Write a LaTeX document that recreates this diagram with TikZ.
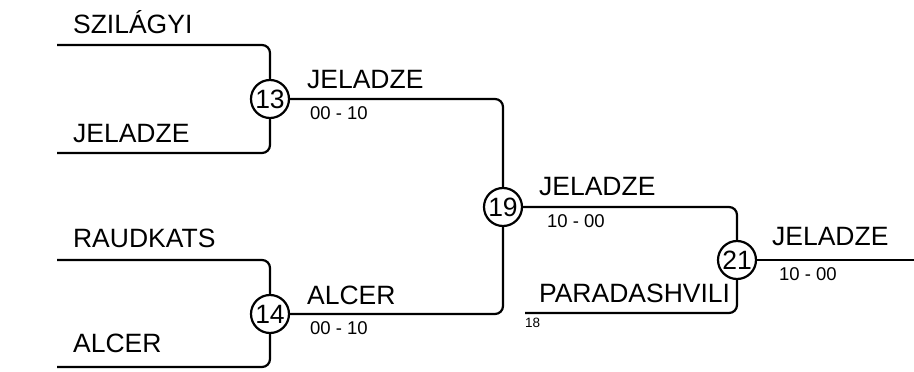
\documentclass[tikz,border=0pt]{standalone}
\usepackage{fontspec}
\setmainfont{Liberation Sans}
\usetikzlibrary{positioning}

\begin{document}
\begin{tikzpicture}[x=1pt,y=-1pt,
 line width=2.2pt,
 match/.style={draw,circle,inner sep=0pt,minimum size=38pt,
               font=\fontsize{26.5}{28}\selectfont},
 player/.style={anchor=base west,inner sep=0pt,font=\fontsize{26.5}{28}\selectfont},
 score/.style={anchor=base west,inner sep=0pt,font=\fontsize{18.5}{20}\selectfont},
 seed/.style={anchor=base west,inner sep=0pt,font=\fontsize{13.5}{15}\selectfont},
 bracket/.style={rounded corners=8pt}]
 \useasboundingbox (0,0) rectangle (914,372);
 % matches
 \node[match] (m13) at (270,99) {13};
 \node[match] (m14) at (270,314) {14};
 \node[match] (m19) at (503,207) {19};
 \node[match] (m21) at (737,260) {21};
 % line ends
 \coordinate (s1) at (57,45);
 \coordinate (s2) at (57,153);
 \coordinate (s3) at (57,260);
 \coordinate (s4) at (57,367);
 \coordinate (s5) at (525,313);
 \coordinate (win) at (914,260);
 % names
 \node[player] (szilagyi) at (72,33) {SZILÁGYI};
 \node[player] (jeladze) at (72,142) {JELADZE};
 \node[player] (raudkats) at (72,247) {RAUDKATS};
 \node[player] (alcer) at (72,352) {ALCER};
 \node[player] (w13) at (306,88) {JELADZE};
 \node[score] (r13) at (309,119) {00 - 10};
 \node[player] (w14) at (306,304) {ALCER};
 \node[score] (r14) at (309,334) {00 - 10};
 \node[player] (w19) at (538,195) {JELADZE};
 \node[score] (r19) at (546,227) {10 - 00};
 \node[player] (paradashvili) at (538,302) {PARADASHVILI};
 \node[seed] (seed18) at (524,327) {18};
 \node[player] (w21) at (771,245) {JELADZE};
 \node[score] (r21) at (778,280) {10 - 00};
 % lines
 \draw[bracket] (s1) -| (m13);
 \draw[bracket] (s2) -| (m13);
 \draw[bracket] (s3) -| (m14);
 \draw[bracket] (s4) -| (m14);
 \draw[bracket] (m13) -| (m19);
 \draw[bracket] (m14) -| (m19);
 \draw[bracket] (m19) -| (m21);
 \draw[bracket] (s5) -| (m21);
 \draw (m21) -- (win);
\end{tikzpicture}
\end{document}
